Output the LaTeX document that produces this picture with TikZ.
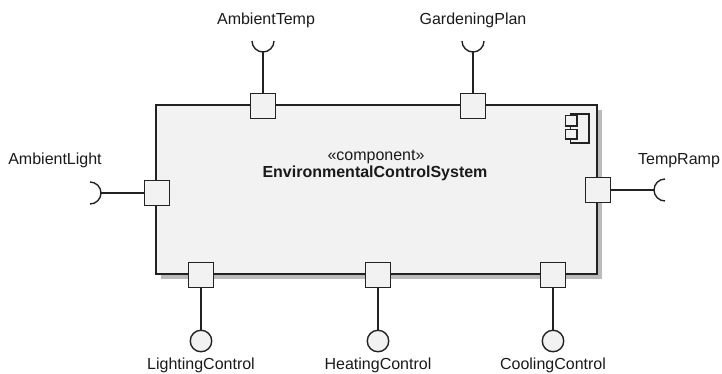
\documentclass[tikz,border=0pt]{standalone}
\usepackage{fontspec}
\setmainfont{Liberation Sans}
\definecolor{linec}{HTML}{222222}
\definecolor{boxfill}{HTML}{F2F2F2}
\definecolor{shadowc}{HTML}{BBBBBB}
\definecolor{textc}{HTML}{1A1A1A}
\begin{document}
\begin{tikzpicture}[x=1pt,y=-1pt,
  every node/.style={inner sep=0pt, outer sep=0pt},
  port/.style={draw=linec, fill=boxfill, line width=1.4pt, rectangle, minimum size=25pt},
  ball/.style={draw=linec, fill=boxfill, line width=1.4pt, circle, minimum size=21.5pt},
  conn/.style={draw=linec, line width=1.4pt},
  lbl/.style={font=\fontsize{16}{19}\selectfont, text=textc, anchor=base},
]
\useasboundingbox (0,0) rectangle (722,373);
% shadow and component body
\fill[shadowc] (161,110) rectangle (602,279);
\node[draw=linec, fill=boxfill, line width=1.6pt, minimum width=441pt, minimum height=169pt, anchor=north west] (ecs) at (156,105) {};
\node[lbl] (stereo) at (376,160) {«component»};
\node[lbl, font=\fontsize{16}{19}\selectfont\bfseries] (ename) at (375,177) {EnvironmentalControlSystem};
% component icon
\draw[linec, line width=1.1pt, fill=boxfill] (570.5,114) rectangle (589,143);
\draw[linec, line width=1.1pt, fill=boxfill] (565.5,115.5) rectangle (577,126);
\draw[linec, line width=1.1pt, fill=boxfill] (565.5,129.5) rectangle (577,139);
% ports
\node[port] (pAT) at (263,106) {};
\node[port] (pGP) at (473,106) {};
\node[port] (pAL) at (157,193) {};
\node[port] (pTR) at (598,190) {};
\node[port] (pLC) at (201,275) {};
\node[port] (pHC) at (378,275) {};
\node[port] (pCC) at (553,275) {};
% required interfaces (sockets)
\coordinate (sAT) at (263,52);
\coordinate (sGP) at (473,52);
\coordinate (sAL) at (101,193);
\coordinate (sTR) at (654,190);
\draw[conn] (pAT.north) -- (sAT);
\draw[conn] (pGP.north) -- (sGP);
\draw[conn] (pAL.west) -- (sAL);
\draw[conn] (pTR.east) -- (sTR);
\draw[conn] (252,41) arc[start angle=180, end angle=360, radius=11pt];
\draw[conn] (462,41) arc[start angle=180, end angle=360, radius=11pt];
\draw[conn] (90,204) arc[start angle=-90, end angle=90, radius=11pt];
\draw[conn] (665,179) arc[start angle=90, end angle=270, radius=11pt];
% provided interfaces (balls)
\node[ball] (bLC) at (201,341) {};
\node[ball] (bHC) at (378,341) {};
\node[ball] (bCC) at (553,341) {};
\draw[conn] (pLC.south) -- (bLC.north);
\draw[conn] (pHC.south) -- (bHC.north);
\draw[conn] (pCC.south) -- (bCC.north);
% labels
\node[lbl] (tAT) at (266,24) {AmbientTemp};
\node[lbl] (tGP) at (473,24) {GardeningPlan};
\node[lbl] (tAL) at (55,164) {AmbientLight};
\node[lbl] (tTR) at (679,164) {TempRamp};
\node[lbl] (tLC) at (201,369.5) {LightingControl};
\node[lbl] (tHC) at (378,369.5) {HeatingControl};
\node[lbl] (tCC) at (553,369.5) {CoolingControl};
\end{tikzpicture}
\end{document}
